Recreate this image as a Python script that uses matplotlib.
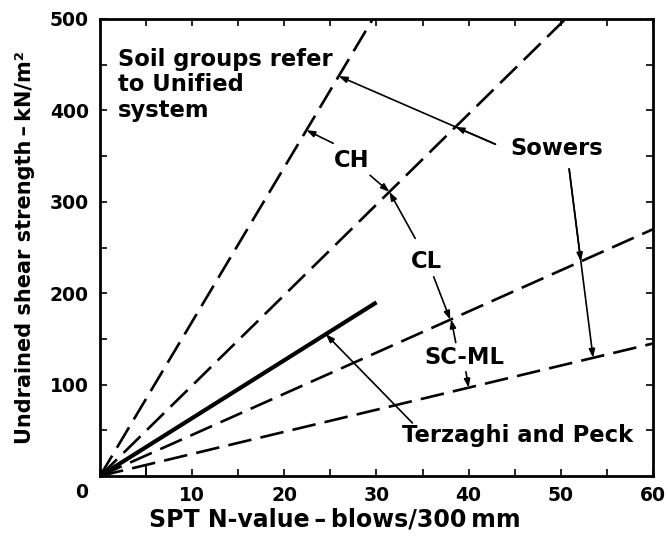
import matplotlib
matplotlib.use("Agg")
import matplotlib.pyplot as plt
import numpy as np

plt.rcParams['font.family'] = ['DejaVu Sans']
plt.rcParams['font.weight'] = 'bold'

# Correlation lines: SPT N-value vs undrained shear strength (kN/m2)
ch_n, ch_su = [0, 29.6], [0, 500]          # Sowers, CH
cl_n, cl_su = [0, 50.5], [0, 500]          # Sowers, CL
scu_n, scu_su = [0, 60], [0, 270]          # Sowers, SC-ML upper
scl_n, scl_su = [0, 60], [0, 145]          # Sowers, SC-ML lower
tp_n, tp_su = [0, 30], [0, 190]            # Terzaghi and Peck

x_ticks = [0, 10, 20, 30, 40, 50, 60]
x_ticklabels = ['', '10', '20', '30', '40', '50', '60']
y_ticks = [100, 200, 300, 400, 500]
y_ticklabels = ['100', '200', '300', '400', '500']


def su_at(n_pts, su_pts, n):
    return float(np.interp(n, n_pts, su_pts))


fig = plt.figure(figsize=(6.68, 5.39), dpi=100)
ax = fig.add_axes([100 / 668, 1 - 476 / 539, 553 / 668, 457 / 539])

dash = (9, 3.5)
for n, s in [(ch_n, ch_su), (cl_n, cl_su), (scu_n, scu_su), (scl_n, scl_su)]:
    ax.plot(n, s, color='black', lw=1.9, dashes=dash, solid_capstyle='butt',
            dash_capstyle='butt', clip_on=True)
ax.plot(tp_n, tp_su, color='black', lw=3.0, solid_capstyle='butt')

# small step at the foot of the lowest line
ax.plot([5, 5], [0, su_at(scl_n, scl_su, 5)], color='black', lw=1.3)

ax.set_xlim(0, 60)
ax.set_ylim(0, 500)
ax.set_xticks(x_ticks)
ax.set_xticklabels(x_ticklabels)
ax.set_xticks(np.arange(5, 60, 10), minor=True)
ax.set_yticks(y_ticks)
ax.set_yticklabels(y_ticklabels)
ax.set_yticks(np.arange(50, 500, 100), minor=True)
ax.tick_params(axis='both', which='both', direction='in', length=5, width=1.2,
               top=True, right=True, labelsize=13.5)
ax.tick_params(axis='x', which='major', pad=7)
ax.tick_params(axis='y', which='major', pad=8)
for sp in ax.spines.values():
    sp.set_linewidth(2.0)

ax.annotate('0', xy=(0, 0), xytext=(-13, -12), textcoords='offset points',
            ha='center', va='center', fontsize=13.5, fontweight='bold',
            annotation_clip=False)

ax.set_xlabel('SPT N-value\u2009\u2013\u2009blows/300\u2009mm', fontsize=17,
              fontweight='bold')
ax.xaxis.set_label_coords(0.425, -0.070)
ax.set_ylabel('Undrained shear strength\u2009\u2013\u2009kN/m\u00b2', fontsize=15,
              fontweight='bold')
ax.yaxis.set_label_coords(-0.118, 0.5)

fs = 16.3
ax.text(1.96, 468, 'Soil groups refer\nto Unified\nsystem', ha='left', va='top',
        fontsize=fs, fontweight='bold', linespacing=1.12)
ax.text(27.3, 345, 'CH', ha='center', va='center', fontsize=fs, fontweight='bold')
ax.text(35.4, 235, 'CL', ha='center', va='center', fontsize=fs, fontweight='bold')
ax.text(39.5, 130, 'SC-ML', ha='center', va='center', fontsize=fs, fontweight='bold')
ax.text(49.6, 358, 'Sowers', ha='center', va='center', fontsize=fs, fontweight='bold')
ax.text(45.3, 44, 'Terzaghi and Peck', ha='center', va='center', fontsize=fs,
        fontweight='bold')

arrow = dict(arrowstyle='-|>,head_length=0.5,head_width=0.18', color='black',
             lw=1.2, shrinkA=0, shrinkB=0)


def pointer(tail, head):
    ax.annotate('', xy=head, xytext=tail, arrowprops=arrow, annotation_clip=False)


pointer((25.3, 364), (22.4, su_at(ch_n, ch_su, 22.4)))
pointer((29.3, 329), (31.4, su_at(cl_n, cl_su, 31.4)))
pointer((34.2, 260), (31.4, su_at(cl_n, cl_su, 31.4)))
pointer((42.9, 363), (25.9, su_at(ch_n, ch_su, 25.9)))
pointer((42.9, 363), (38.57, su_at(cl_n, cl_su, 38.57)))
pointer((50.9, 336), (53.5, su_at(scl_n, scl_su, 53.5)))
pointer((50.9, 336), (52.17, su_at(scu_n, scu_su, 52.17)))
pointer((36.2, 218), (38.0, su_at(scu_n, scu_su, 38.0)))
pointer((38.6, 146), (38.1, su_at(scu_n, scu_su, 38.1)))
pointer((39.7, 114), (40.0, su_at(scl_n, scl_su, 40.0)))
pointer((33.9, 58), (24.5, su_at(tp_n, tp_su, 24.5)))

fig.savefig('out.png', dpi=100)
